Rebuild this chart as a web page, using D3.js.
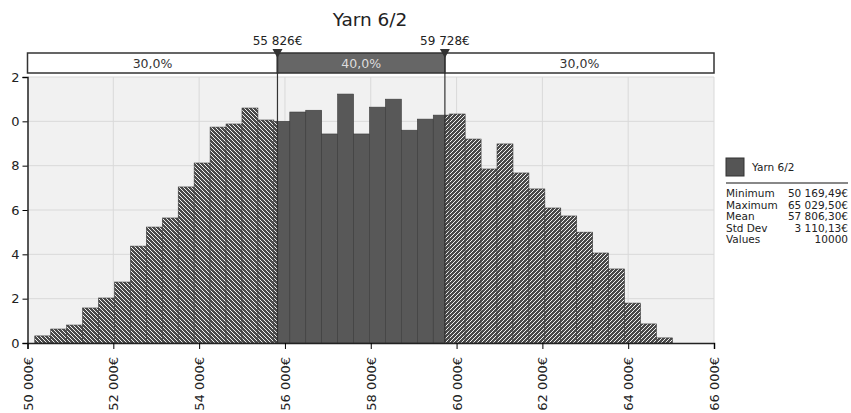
<!DOCTYPE html>
<html>
<head>
<meta charset="utf-8">
<script src="https://cdn.jsdelivr.net/npm/d3@7"></script>
<style>
  body { margin: 0; background: #fff; }
  text { font-family: "DejaVu Sans", sans-serif; }
</style>
</head>
<body>
<script>
// histogram data (density x 1e-5), 40 bins between min and max
const binMin = 50169.49;
const binMax = 65029.50;
const density = [
  0.32, 0.63, 0.81, 1.58, 2.03, 2.75, 4.37, 5.23, 5.64, 7.04,
  8.12, 9.74, 9.88, 10.6, 10.06, 10.0, 10.42, 10.5, 9.43, 11.23,
  9.43, 10.64, 11.0, 9.6, 10.1, 10.28, 10.33, 9.2, 7.85, 8.98,
  7.67, 6.95, 6.09, 5.73, 5.0, 4.06, 3.34, 1.8, 0.86, 0.23
];
const delimiters = [55826, 59728];
const delimiterLabels = ["55 826€", "59 728€"];
const regionLabels = ["30,0%", "40,0%", "30,0%"];
const xTicks = [50000, 52000, 54000, 56000, 58000, 60000, 62000, 64000, 66000];
const xTickLabels = ["50 000€", "52 000€", "54 000€", "56 000€", "58 000€", "60 000€", "62 000€", "64 000€", "66 000€"];
const yTicks = [0, 2, 4, 6, 8, 10, 12];
const yTickLabels = ["0", "2", "4", "6", "8", "0", "2"];
const statNames = ["Minimum", "Maximum", "Mean", "Std Dev", "Values"];
const statValues = ["50 169,49€", "65 029,50€", "57 806,30€", "3 110,13€", "10000"];
const seriesName = "Yarn 6/2";

const W = 851, H = 413;
const svg = d3.select("body").append("svg").attr("width", W).attr("height", H);

const x = d3.scaleLinear().domain([50000, 66000]).range([27.5, 714]);
const y = d3.scaleLinear().domain([0, 12]).range([343, 77]);

const defs = svg.append("defs");
function hatch(id, d) {
  const p = defs.append("pattern").attr("id", id)
    .attr("patternUnits", "userSpaceOnUse").attr("width", 4).attr("height", 4);
  p.append("rect").attr("width", 4).attr("height", 4).attr("fill", "#4a4a4a");
  p.append("path").attr("d", d).attr("stroke", "#f2f2f2").attr("stroke-width", 1);
}
hatch("hatchL", "M0,0L4,4M-1,3L1,5M3,-1L5,1");
hatch("hatchR", "M0,4L4,0M-1,1L1,-1M3,5L5,3");

// plot background + grid
svg.append("rect").attr("x", x(50000)).attr("y", y(12))
  .attr("width", x(66000) - x(50000)).attr("height", y(0) - y(12))
  .attr("fill", "#f1f1f1");

svg.append("g").selectAll("line").data(xTicks.slice(1)).join("line")
  .attr("x1", d => x(d)).attr("x2", d => x(d))
  .attr("y1", y(12)).attr("y2", y(0))
  .attr("stroke", "#d9d9d9");
svg.append("g").selectAll("line").data(yTicks.slice(1)).join("line")
  .attr("x1", x(50000)).attr("x2", x(66000))
  .attr("y1", d => y(d)).attr("y2", d => y(d))
  .attr("stroke", "#d9d9d9");

// bars split by the delimiters
const binW = (binMax - binMin) / density.length;
const regions = [[binMin, delimiters[0], "url(#hatchL)"], [delimiters[0], delimiters[1], "#585858"], [delimiters[1], binMax, "url(#hatchR)"]];
const segs = [];
density.forEach((v, i) => {
  const a = binMin + i * binW, b = a + binW;
  regions.forEach(r => {
    const s = Math.max(a, r[0]), e = Math.min(b, r[1]);
    if (e > s) segs.push({ s, e, v, fill: r[2] });
  });
});
svg.append("g").selectAll("rect").data(segs).join("rect")
  .attr("x", d => x(d.s)).attr("width", d => x(d.e) - x(d.s))
  .attr("y", d => y(d.v)).attr("height", d => y(0) - y(d.v))
  .attr("fill", d => d.fill)
  .attr("stroke", "#3a3a3a").attr("stroke-width", 0.6);

// axes
const yAxis = svg.append("g").attr("transform", `translate(${x(50000)},0)`)
  .call(d3.axisLeft(y).tickValues(yTicks).tickSize(5).tickFormat((d, i) => yTickLabels[i]));
yAxis.select(".domain").attr("stroke", "#222").attr("stroke-width", 1.5);
yAxis.selectAll("text").attr("font-size", 13).attr("fill", "#222").attr("font-family", "DejaVu Sans");

const xAxis = svg.append("g").attr("transform", `translate(0,${y(0)})`)
  .call(d3.axisBottom(x).tickValues(xTicks).tickSize(6).tickFormat((d, i) => xTickLabels[i]));
xAxis.select(".domain").attr("stroke", "#222").attr("stroke-width", 1.5);
xAxis.selectAll("text")
  .attr("font-size", 13).attr("fill", "#222").attr("font-family", "DejaVu Sans")
  .attr("transform", "rotate(-90)").attr("text-anchor", "end")
  .attr("x", -14).attr("y", 0).attr("dy", "0.35em");

// delimiter band
const bandY = 53, bandH = 20;
const bandEdges = [50000, delimiters[0], delimiters[1], 66000];
const band = svg.append("g");
band.selectAll("rect").data(regionLabels).join("rect")
  .attr("x", (d, i) => x(bandEdges[i])).attr("y", bandY)
  .attr("width", (d, i) => x(bandEdges[i + 1]) - x(bandEdges[i])).attr("height", bandH)
  .attr("fill", (d, i) => i === 1 ? "#666" : "#fff")
  .attr("stroke", "#333").attr("stroke-width", 1.5);
band.selectAll("text").data(regionLabels).join("text")
  .attr("x", (d, i) => (x(bandEdges[i]) + x(bandEdges[i + 1])) / 2)
  .attr("y", bandY + 15).attr("text-anchor", "middle").attr("font-size", 12.5)
  .attr("fill", (d, i) => i === 1 ? "#ddd" : "#333").text(d => d);

// delimiter lines, markers and labels
const dl = svg.append("g").selectAll("g").data(delimiters).join("g");
dl.append("line").attr("x1", d => x(d)).attr("x2", d => x(d))
  .attr("y1", bandY).attr("y2", y(0)).attr("stroke", "#333").attr("stroke-width", 1.2);
dl.append("path").attr("d", d => `M${x(d) - 5},${bandY - 4}L${x(d) + 5},${bandY - 4}L${x(d)},${bandY + 5}Z`)
  .attr("fill", "#333");
dl.append("text").attr("x", d => x(d)).attr("y", 45).attr("text-anchor", "middle")
  .attr("font-size", 12).attr("fill", "#222").text((d, i) => delimiterLabels[i]);

// title
svg.append("text").attr("x", 370).attr("y", 26).attr("text-anchor", "middle")
  .attr("font-size", 18.5).attr("fill", "#222").text(seriesName);

// legend
const lg = svg.append("g");
lg.append("rect").attr("x", 726).attr("y", 158).attr("width", 18).attr("height", 18)
  .attr("fill", "#555").attr("stroke", "#333");
lg.append("text").attr("x", 752).attr("y", 171).attr("font-size", 10.5).attr("fill", "#222").text(seriesName);
lg.append("line").attr("x1", 726).attr("x2", 848).attr("y1", 183).attr("y2", 183)
  .attr("stroke", "#888").attr("stroke-width", 2);
statNames.forEach((n, i) => {
  lg.append("text").attr("x", 726).attr("y", 197 + i * 11.5).attr("font-size", 10.5).attr("fill", "#222").text(n);
  lg.append("text").attr("x", 848).attr("y", 197 + i * 11.5).attr("font-size", 10.5)
    .attr("text-anchor", "end").attr("fill", "#222").text(statValues[i]);
});
</script>
</body>
</html>
